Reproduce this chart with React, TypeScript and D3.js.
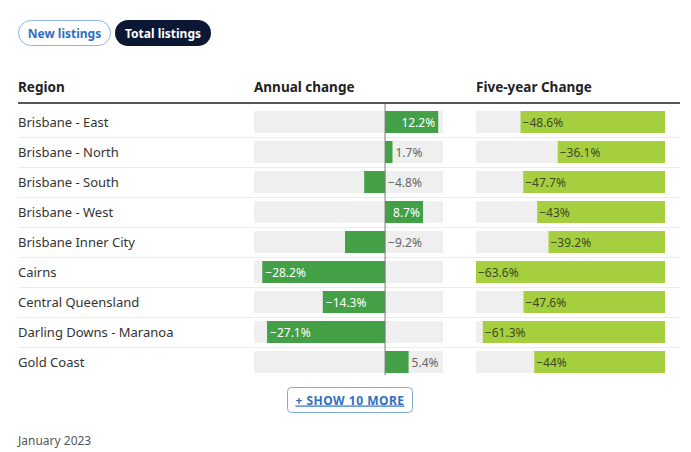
import React from "react";
import * as d3 from "d3";

const regions = [
  "Brisbane - East",
  "Brisbane - North",
  "Brisbane - South",
  "Brisbane - West",
  "Brisbane Inner City",
  "Cairns",
  "Central Queensland",
  "Darling Downs - Maranoa",
  "Gold Coast",
];
const annualChange = [12.2, 1.7, -4.8, 8.7, -9.2, -28.2, -14.3, -27.1, 5.4];
const fiveYearChange = [-48.6, -36.1, -47.7, -43, -39.2, -63.6, -47.6, -61.3, -44];

const FONT = "'Noto Sans', 'Open Sans', sans-serif";
const DARK_GREEN = "#43a047";
const LIME = "#a6cf3f";
const BG = "#efefef";

const fmt = (v: number) => (v < 0 ? "\u2212" + Math.abs(v) : String(v)) + "%";

export default function App() {
  const y = d3.scaleBand<string>().domain(regions).range([107, 377]).padding(0);
  const xA = d3.scaleLinear().domain([-30.1, 13.3]).range([254, 443]);
  const x5 = d3.scaleLinear().domain([-63.6, 0]).range([476, 665]);
  const barH = 22;
  const off = 4;
  const x0 = xA(0);

  return (
    <svg width={691} height={452} style={{ position: "absolute", left: 0, top: 0, background: "#fff" }} fontFamily={FONT}>
      {/* toggle buttons */}
      <rect x={18.5} y={20.5} width={92} height={25} rx={12.5} fill="#fff" stroke="#8fb6e6" />
      <text x={64.5} y={37.5} textAnchor="middle" fontSize={12} fontWeight={700} fill="#2f6fc2">New listings</text>
      <rect x={115} y={20} width={96} height={26} rx={13} fill="#0c1733" />
      <text x={163} y={37.5} textAnchor="middle" fontSize={12} fontWeight={700} fill="#fff">Total listings</text>

      {/* headers */}
      <text x={18} y={92} fontSize={13.5} fontWeight={700} fill="#222">Region</text>
      <text x={254} y={92} fontSize={13.5} fontWeight={700} fill="#222">Annual change</text>
      <text x={476} y={92} fontSize={13.5} fontWeight={700} fill="#222">Five-year Change</text>
      <line x1={18} x2={680} y1={103} y2={103} stroke="#555" strokeWidth={2} />

      {regions.map((r, i) => {
        const top = y(r)!;
        const cy = top + 15;
        const a = annualChange[i];
        const f = fiveYearChange[i];
        const ax1 = Math.min(xA(a), x0);
        const aw = Math.abs(xA(a) - x0);
        const label = fmt(a);
        const labelW = label.length * 6.3 + 10;
        const inside = aw >= labelW;
        let lx: number;
        let anchor: "start" | "end" = "start";
        let lfill = "#fff";
        if (inside) {
          if (a >= 0) {
            lx = xA(a) - 3;
            anchor = "end";
          } else {
            lx = xA(a) + 3;
          }
        } else {
          lfill = "#666";
          lx = a >= 0 ? xA(a) + 3 : x0 + 3;
        }
        const fx = x5(f);
        return (
          <g key={r}>
            <text x={18} y={cy + 4.5} fontSize={13} fill="#333">{r}</text>
            <rect x={254} y={top + off} width={443 - 254} height={barH} fill={BG} />
            <rect x={ax1} y={top + off} width={aw} height={barH} fill={DARK_GREEN} />
            <text x={lx} y={cy + 4.5} fontSize={12} fill={lfill} textAnchor={anchor}>{label}</text>
            <rect x={476} y={top + off} width={665 - 476} height={barH} fill={BG} />
            <rect x={fx} y={top + off} width={665 - fx} height={barH} fill={LIME} />
            <text x={fx + 2} y={cy + 4.5} fontSize={12} fill="#3d4a22">{fmt(f)}</text>
            {i < regions.length - 1 && (
              <line x1={18} x2={680} y1={top + 30.5} y2={top + 30.5} stroke="#ececec" strokeWidth={1} />
            )}
          </g>
        );
      })}
      <line x1={x0} x2={x0} y1={104} y2={375} stroke="#777" strokeWidth={1} />

      {/* show more button */}
      <rect x={287.5} y={387.5} width={125} height={25} rx={4} fill="#fff" stroke="#7fa9de" />
      <text x={350} y={404.5} textAnchor="middle" fontSize={12} fontWeight={700} fill="#2f6fc2" letterSpacing={0.5} textDecoration="underline">+ SHOW 10 MORE</text>

      <text x={18} y={445} fontSize={12} fill="#555">January 2023</text>
    </svg>
  );
}
